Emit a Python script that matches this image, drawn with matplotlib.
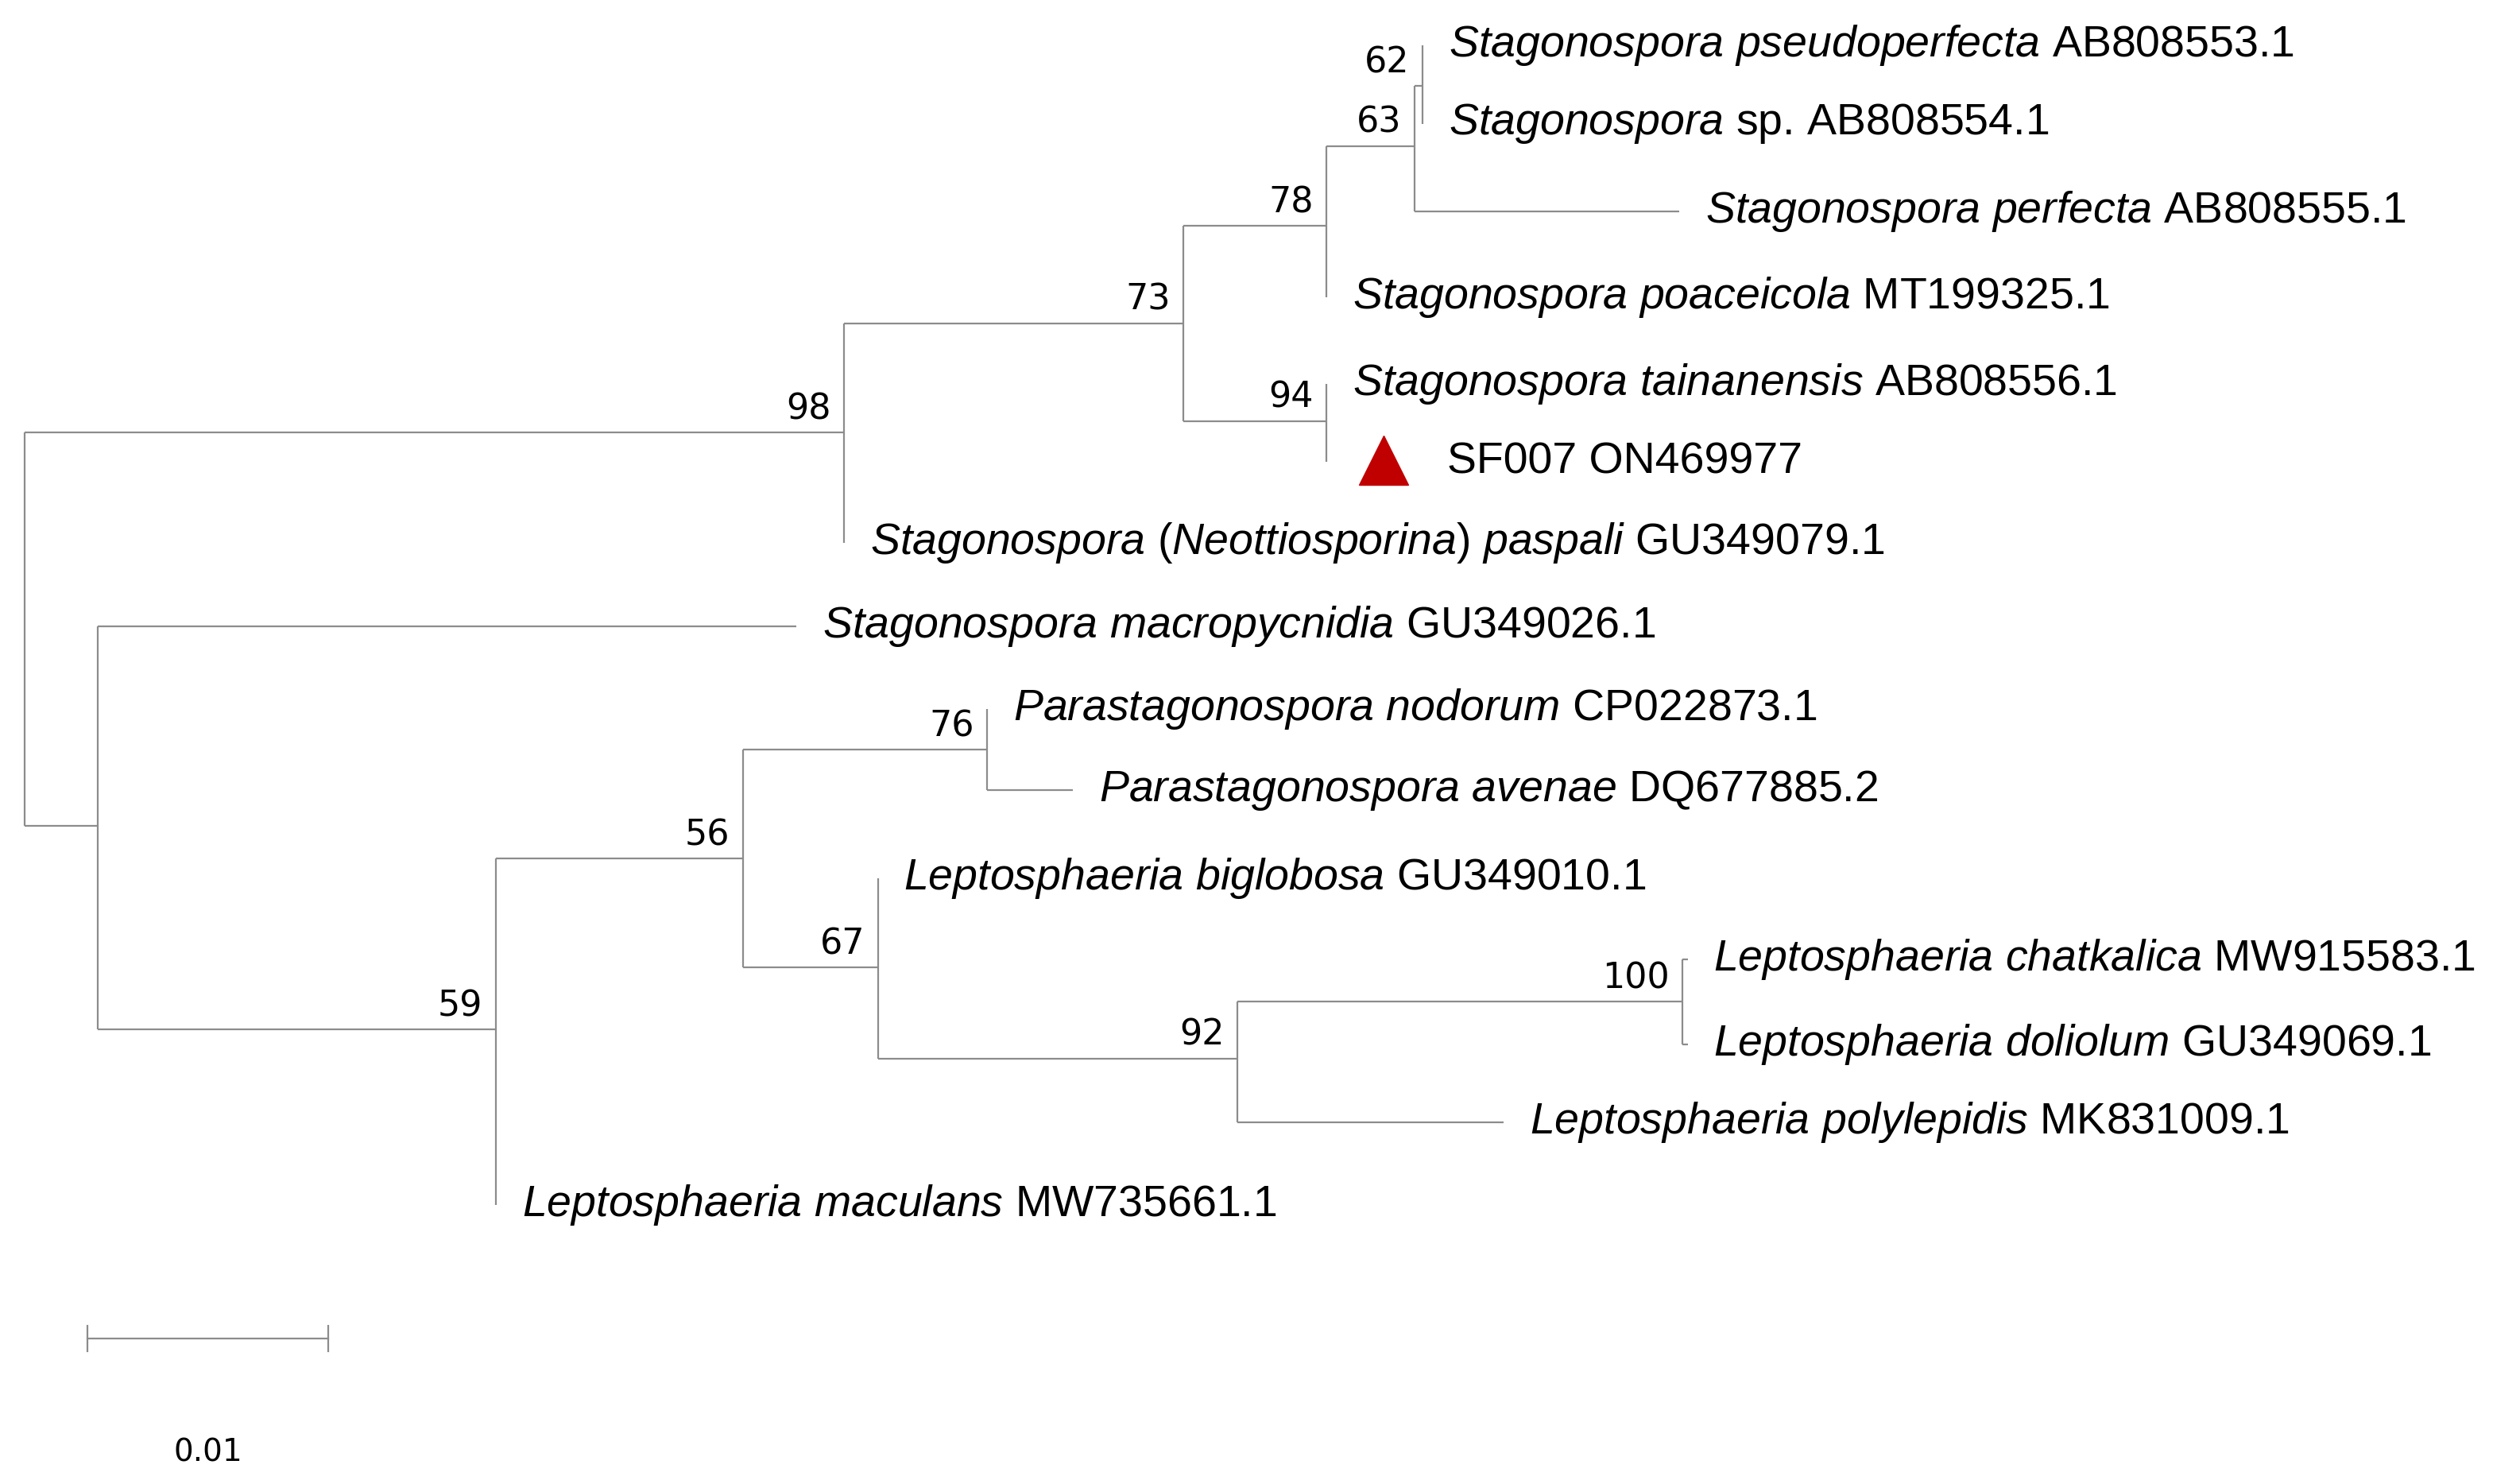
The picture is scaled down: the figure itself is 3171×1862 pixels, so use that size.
import matplotlib.pyplot as plt

plt.rcParams['mathtext.fontset'] = 'custom'
plt.rcParams['mathtext.it'] = 'Liberation Sans:italic'
plt.rcParams['mathtext.rm'] = 'Liberation Sans'

# tree nodes: name, parent, x (cumulative distance, px scale), y (row position)
names = ['root', 'n98', 'n73', 'n78', 'n63', 'n62', 't_pseudo', 't_sp', 't_perf', 't_poac',
         'n94', 't_tain', 't_sf', 't_pasp', 'nL', 't_macro', 'n59', 'n56', 'n76', 't_nod',
         't_ave', 'n67', 't_big', 'n92', 'n100', 't_chat', 't_dol', 't_poly', 't_mac']
parents = [None, 'root', 'n98', 'n73', 'n78', 'n63', 'n62', 'n62', 'n63', 'n78',
           'n73', 'n94', 'n94', 'n98', 'root', 'nL', 'nL', 'n59', 'n56', 'n76',
           'n76', 'n56', 'n67', 'n67', 'n92', 'n100', 'n100', 'n92', 'n59']
xs = [15, 519, 728, 816, 870, 875, 875, 875, 1033, 816,
      816, 816, 816, 519, 60, 490, 305, 457, 607, 607,
      660, 540, 540, 761, 1035, 1038, 1038, 925, 305]
ys = [387, 266, 199, 139, 90, 53, 28, 76, 130, 183,
      259, 236, 284, 334, 508, 385, 633, 528, 461, 436,
      486, 595, 540, 651, 616, 590, 642, 690, 741]

bootstrap = {'n98': 98, 'n73': 73, 'n78': 78, 'n63': 63, 'n62': 62, 'n94': 94,
             'n59': 59, 'n56': 56, 'n76': 76, 'n67': 67, 'n92': 92, 'n100': 100}

tips = {
    't_pseudo': ('Stagonospora pseudoperfecta', 'AB808553.1'),
    't_sp': ('Stagonospora', 'sp. AB808554.1'),
    't_perf': ('Stagonospora perfecta', 'AB808555.1'),
    't_poac': ('Stagonospora poaceicola', 'MT199325.1'),
    't_tain': ('Stagonospora tainanensis', 'AB808556.1'),
    't_pasp': ('Stagonospora (Neottiosporina) paspali', 'GU349079.1'),
    't_macro': ('Stagonospora macropycnidia', 'GU349026.1'),
    't_nod': ('Parastagonospora nodorum', 'CP022873.1'),
    't_ave': ('Parastagonospora avenae', 'DQ677885.2'),
    't_big': ('Leptosphaeria biglobosa', 'GU349010.1'),
    't_chat': ('Leptosphaeria chatkalica', 'MW915583.1'),
    't_dol': ('Leptosphaeria doliolum', 'GU349069.1'),
    't_poly': ('Leptosphaeria polylepidis', 'MK831009.1'),
    't_mac': ('Leptosphaeria maculans', 'MW735661.1'),
}

scale_len = 148
scale_label = '0.01'

fig = plt.figure(figsize=(31.71, 18.62), dpi=100)
ax = fig.add_axes([0, 0, 1, 1])
ax.set_xlim(0, 1550)
ax.set_ylim(910, 0)
ax.axis('off')

lc = '#8c8c8c'
lw = 1.6
idx = {n: i for i, n in enumerate(names)}

for i, n in enumerate(names):
    p = parents[i]
    if p is None:
        continue
    px = xs[idx[p]]
    ax.plot([px, xs[i]], [ys[i], ys[i]], color=lc, lw=lw, solid_capstyle='butt')

for n in names:
    kids = [i for i, p in enumerate(parents) if p == n]
    if kids:
        yy = [ys[k] for k in kids]
        ax.plot([xs[idx[n]]] * 2, [min(yy), max(yy)], color=lc, lw=lw, solid_capstyle='butt')

for n, b in bootstrap.items():
    i = idx[n]
    ax.text(xs[i] - 8, ys[i] - 4, str(b), ha='right', va='bottom',
            fontsize=32, family='DejaVu Sans')

for n, (it, rest) in tips.items():
    i = idx[n]
    lab = r'$\mathit{' + it.replace(' ', r'\ ') + '}$ ' + rest
    ax.text(xs[i] + 16, ys[i], lab, ha='left', va='center', fontsize=40,
            family='Liberation Sans')

i = idx['t_sf']
ax.plot(xs[i] + 35, ys[i] - 1, marker='^', color='#c00000', markersize=44, mec='#c00000')
ax.text(xs[i] + 74, ys[i], 'SF007 ON469977', ha='left', va='center', fontsize=40,
        family='Liberation Sans')

ax.plot([54, 54 + scale_len], [823, 823], color=lc, lw=lw)
ax.plot([54, 54], [815, 831], color=lc, lw=lw)
ax.plot([54 + scale_len] * 2, [815, 831], color=lc, lw=lw)
ax.text(128, 893, scale_label, ha='center', va='center', fontsize=28, family='DejaVu Sans')

fig.savefig('out.png', dpi=100)
